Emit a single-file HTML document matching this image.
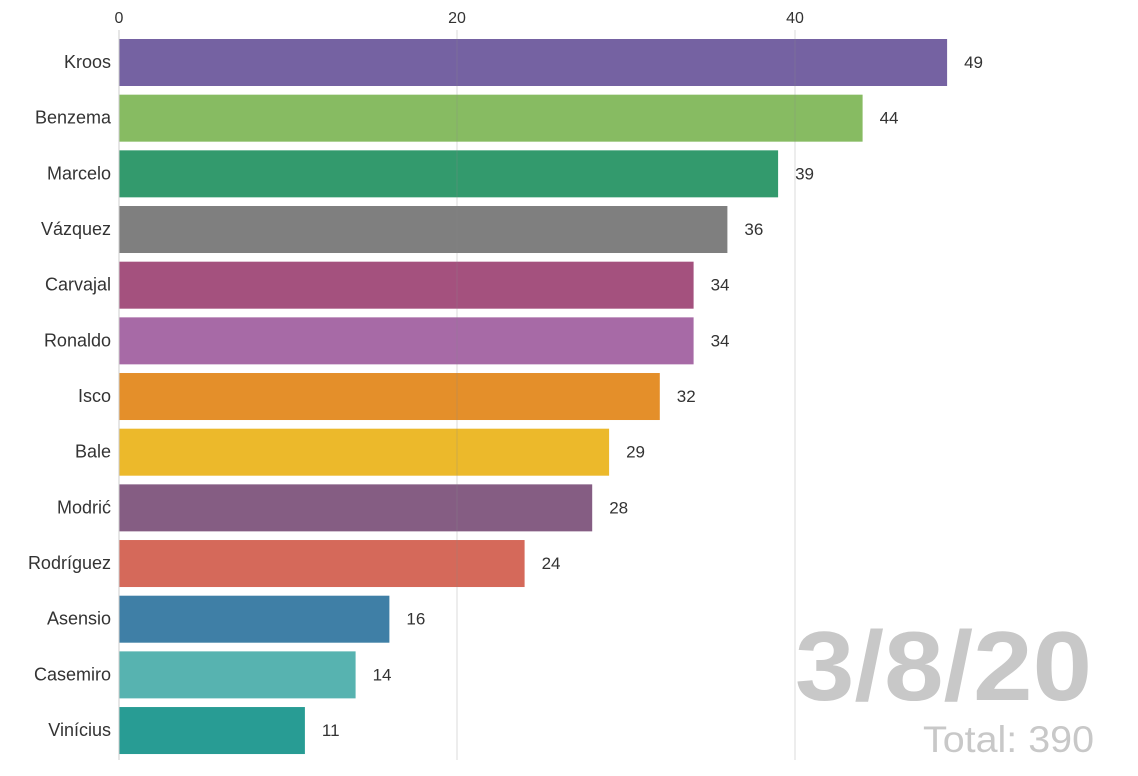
<!DOCTYPE html>
<html><head><meta charset="utf-8"><style>
body{margin:0;background:#fff;}
svg text{font-family:"Liberation Sans",sans-serif;}
</style></head><body>
<svg width="1138" height="771" xmlns="http://www.w3.org/2000/svg">
<g font-size="16" fill="#333">
<text x="119" y="23" text-anchor="middle">0</text>
<text x="457" y="23" text-anchor="middle">20</text>
<text x="795" y="23" text-anchor="middle">40</text>
</g>
<g id="bars"></g>
<line x1="119" y1="30" x2="119" y2="760" stroke="#ccc" stroke-width="1"/>
<line x1="457" y1="30" x2="457" y2="760" stroke="#888" stroke-opacity="0.3" stroke-width="1"/>
<line x1="795" y1="30" x2="795" y2="760" stroke="#888" stroke-opacity="0.3" stroke-width="1"/>
<text x="795" y="700" font-size="98" font-weight="bold" fill="#c8c8c8" textLength="297" lengthAdjust="spacingAndGlyphs">3/8/20</text>
<text x="923" y="752" font-size="37" fill="#c8c8c8" textLength="171" lengthAdjust="spacingAndGlyphs">Total: 390</text>
</svg>
<script>
var d=[["Kroos",49,"#7562a2"],["Benzema",44,"#87bb62"],["Marcelo",39,"#339a6d"],["Vázquez",36,"#7f7f7f"],["Carvajal",34,"#a4517e"],["Ronaldo",34,"#a76aa6"],["Isco",32,"#e48f2a"],["Bale",29,"#ecb92b"],["Modrić",28,"#855d83"],["Rodríguez",24,"#d5695a"],["Asensio",16,"#3f7fa6"],["Casemiro",14,"#57b3b0"],["Vinícius",11,"#289c94"]];
var g=document.getElementById("bars"),s="";
d.forEach(function(r,i){var y=39+i*55.67,w=r[1]*16.9;
s+='<rect x="119" y="'+y+'" width="'+w+'" height="47" fill="'+r[2]+'"/>';
s+='<text x="111" y="'+(y+29)+'" text-anchor="end" font-size="18" fill="#333">'+r[0]+'</text>';
s+='<text x="'+(119+w+17)+'" y="'+(y+29)+'" font-size="17" fill="#333">'+r[1]+'</text>';});
g.innerHTML=s;
</script>
</body></html>
